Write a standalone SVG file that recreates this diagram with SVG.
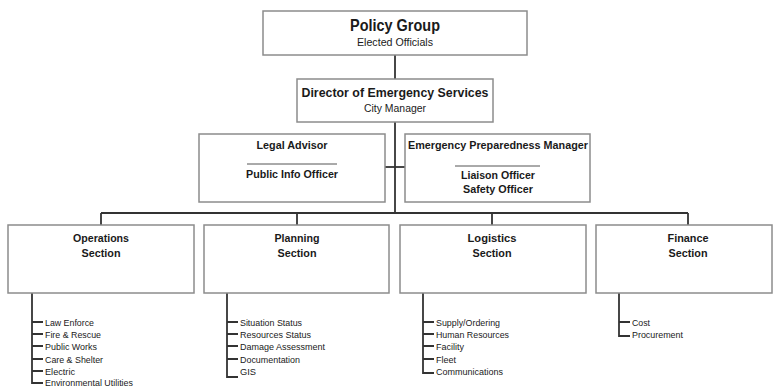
<svg xmlns="http://www.w3.org/2000/svg" width="774" height="388" viewBox="0 0 774 388">
<style>
.box{fill:#fff;stroke:#8c8c8c;stroke-width:1.5}
.ln{stroke:#333;stroke-width:1.8;fill:none}
.sep{stroke:#555;stroke-width:1}
text{font-family:"Liberation Sans",Arial,sans-serif;fill:#1a1a1a}
.b{font-weight:bold;text-anchor:middle}
.m{text-anchor:middle}
.it{font-size:9.5px}
</style>
<rect width="774" height="388" fill="#fff"/>
<g id="connectors">
<line class="ln" x1="395" y1="55" x2="395" y2="79"/>
<line class="ln" x1="395" y1="122" x2="395" y2="213"/>
<line class="ln" x1="385" y1="167" x2="405" y2="167"/>
<line class="ln" x1="101" y1="213" x2="688" y2="213"/>
<line class="ln" x1="101" y1="213" x2="101" y2="225"/>
<line class="ln" x1="297" y1="213" x2="297" y2="225"/>
<line class="ln" x1="492" y1="213" x2="492" y2="225"/>
<line class="ln" x1="688" y1="213" x2="688" y2="225"/>
<path class="ln" d="M32 293V383H43M32 322H43M32 334H43M32 346H43M32 359H43M32 371H43"/>
<path class="ln" d="M227 293V377H238M227 322H238M227 334H238M227 346H238M227 359H238"/>
<path class="ln" d="M423 293V373H434M423 322H434M423 334H434M423 346H434M423 359H434"/>
<path class="ln" d="M619 293V336H630M619 322H630"/>
</g>
<g id="policy">
<rect class="box" x="263" y="11" width="264" height="44"/>
<text class="b" x="395" y="31" font-size="16.5" textLength="90" lengthAdjust="spacingAndGlyphs">Policy Group</text>
<text class="m" x="395" y="46" font-size="10" textLength="76" lengthAdjust="spacingAndGlyphs">Elected Officials</text>
</g>
<g id="director">
<rect class="box" x="297" y="79" width="196" height="43"/>
<text class="b" x="395" y="97" font-size="13" textLength="187" lengthAdjust="spacingAndGlyphs">Director of Emergency Services</text>
<text class="m" x="395" y="112" font-size="10" textLength="62" lengthAdjust="spacingAndGlyphs">City Manager</text>
</g>
<g id="legal">
<rect class="box" x="199" y="134" width="186" height="68"/>
<text class="b" x="292" y="149" font-size="11" textLength="71" lengthAdjust="spacingAndGlyphs">Legal Advisor</text>
<line class="sep" x1="247" y1="164" x2="337" y2="164"/>
<text class="b" x="292" y="178" font-size="11" textLength="92" lengthAdjust="spacingAndGlyphs">Public Info Officer</text>
</g>
<g id="epm">
<rect class="box" x="405" y="134" width="185" height="68"/>
<text class="b" x="498" y="149" font-size="11" textLength="180" lengthAdjust="spacingAndGlyphs">Emergency Preparedness Manager</text>
<line class="sep" x1="455" y1="166" x2="540" y2="166"/>
<text class="b" x="498" y="179" font-size="11" textLength="74" lengthAdjust="spacingAndGlyphs">Liaison Officer</text>
<text class="b" x="498" y="193" font-size="11" textLength="70" lengthAdjust="spacingAndGlyphs">Safety Officer</text>
</g>
<g id="operations">
<rect class="box" x="8" y="225" width="186" height="68"/>
<text class="b" x="101" y="242" font-size="11" textLength="56" lengthAdjust="spacingAndGlyphs">Operations</text>
<text class="b" x="101" y="257" font-size="11" textLength="39" lengthAdjust="spacingAndGlyphs">Section</text>
<text class="it" x="45" y="325.5" textLength="49" lengthAdjust="spacingAndGlyphs">Law Enforce</text>
<text class="it" x="45" y="337.5" textLength="56" lengthAdjust="spacingAndGlyphs">Fire &amp; Rescue</text>
<text class="it" x="45" y="349.5" textLength="52" lengthAdjust="spacingAndGlyphs">Public Works</text>
<text class="it" x="45" y="362.5" textLength="58" lengthAdjust="spacingAndGlyphs">Care &amp; Shelter</text>
<text class="it" x="45" y="374.5" textLength="30" lengthAdjust="spacingAndGlyphs">Electric</text>
<text class="it" x="45" y="386" textLength="88" lengthAdjust="spacingAndGlyphs">Environmental Utilities</text>
</g>
<g id="planning">
<rect class="box" x="204" y="225" width="185" height="68"/>
<text class="b" x="297" y="242" font-size="11" textLength="45" lengthAdjust="spacingAndGlyphs">Planning</text>
<text class="b" x="297" y="257" font-size="11" textLength="39" lengthAdjust="spacingAndGlyphs">Section</text>
<text class="it" x="240" y="325.5" textLength="62" lengthAdjust="spacingAndGlyphs">Situation Status</text>
<text class="it" x="240" y="337.5" textLength="71" lengthAdjust="spacingAndGlyphs">Resources Status</text>
<text class="it" x="240" y="349.5" textLength="85" lengthAdjust="spacingAndGlyphs">Damage Assessment</text>
<text class="it" x="240" y="362.5" textLength="60" lengthAdjust="spacingAndGlyphs">Documentation</text>
<text class="it" x="240" y="374.5" textLength="16" lengthAdjust="spacingAndGlyphs">GIS</text>
</g>
<g id="logistics">
<rect class="box" x="400" y="225" width="186" height="68"/>
<text class="b" x="492" y="242" font-size="11" textLength="49" lengthAdjust="spacingAndGlyphs">Logistics</text>
<text class="b" x="492" y="257" font-size="11" textLength="39" lengthAdjust="spacingAndGlyphs">Section</text>
<text class="it" x="436" y="325.5" textLength="64" lengthAdjust="spacingAndGlyphs">Supply/Ordering</text>
<text class="it" x="436" y="337.5" textLength="73" lengthAdjust="spacingAndGlyphs">Human Resources</text>
<text class="it" x="436" y="349.5" textLength="28" lengthAdjust="spacingAndGlyphs">Facility</text>
<text class="it" x="436" y="362.5" textLength="20" lengthAdjust="spacingAndGlyphs">Fleet</text>
<text class="it" x="436" y="374.5" textLength="67" lengthAdjust="spacingAndGlyphs">Communications</text>
</g>
<g id="finance">
<rect class="box" x="596" y="225" width="176" height="68"/>
<text class="b" x="688" y="242" font-size="11" textLength="41" lengthAdjust="spacingAndGlyphs">Finance</text>
<text class="b" x="688" y="257" font-size="11" textLength="39" lengthAdjust="spacingAndGlyphs">Section</text>
<text class="it" x="632" y="325.5" textLength="18" lengthAdjust="spacingAndGlyphs">Cost</text>
<text class="it" x="632" y="337.5" textLength="51" lengthAdjust="spacingAndGlyphs">Procurement</text>
</g>
</svg>
